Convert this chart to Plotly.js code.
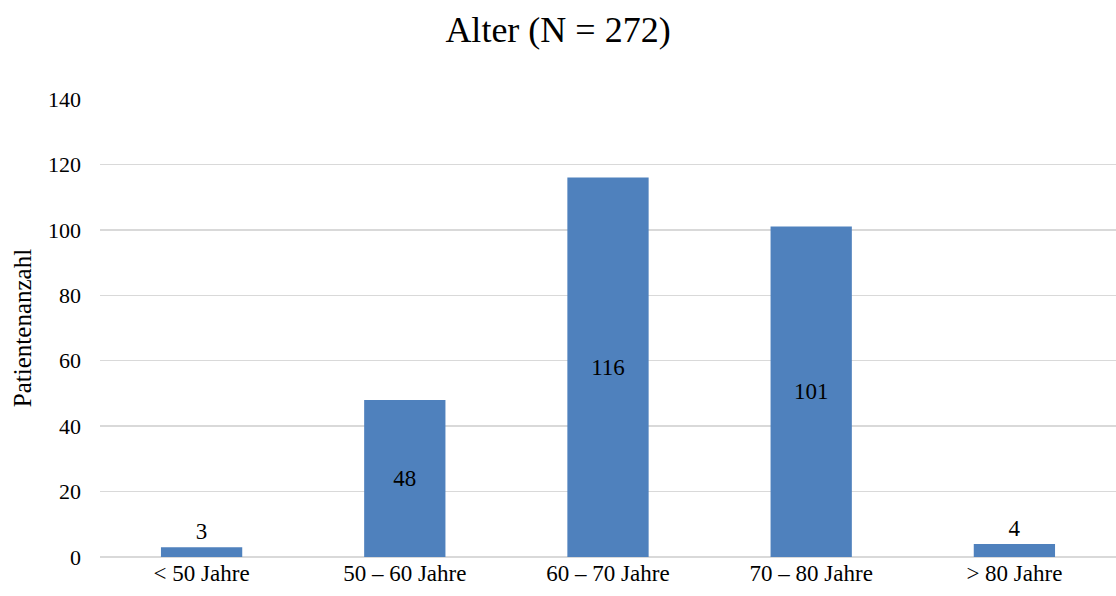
<!DOCTYPE html>
<html>
<head>
<meta charset="utf-8">
<script src="https://cdn.plot.ly/plotly-3.0.1.min.js"></script>
<style>html,body{margin:0;padding:0;background:#fff;}#chart{width:1116px;height:596px;}</style>
</head>
<body>
<div id="chart"></div>
<script>
// Age groups of the patient cohort
const categories = ['< 50 Jahre', '50 – 60 Jahre', '60 – 70 Jahre', '70 – 80 Jahre', '> 80 Jahre'];
const patients = [3, 48, 116, 101, 4];
const labelPositions = ['outside', 'inside', 'inside', 'inside', 'outside'];

const serif = 'Liberation Serif, Times New Roman, serif';

const trace = {
  type: 'bar',
  x: categories,
  y: patients,
  text: patients.map(String),
  textposition: labelPositions,
  insidetextanchor: 'middle',
  textfont: {family: serif, size: 23, color: '#000'},
  cliponaxis: false,
  marker: {color: '#4f81bd'},
  hoverinfo: 'x+y'
};

const layout = {
  width: 1116,
  height: 596,
  margin: {l: 100, r: 0, t: 99, b: 39},
  paper_bgcolor: '#fff',
  plot_bgcolor: '#fff',
  bargap: 0.6,
  showlegend: false,
  font: {family: serif, color: '#000'},
  title: {text: 'Alter (N = 272)', x: 0.5, xanchor: 'center', y: 0.95, yanchor: 'middle',
          font: {family: serif, size: 36, color: '#000'}},
  xaxis: {
    type: 'category',
    showgrid: false,
    showline: false,
    ticks: '',
    tickfont: {family: serif, size: 23, color: '#000'}
  },
  yaxis: {
    range: [0, 140],
    dtick: 20,
    showgrid: true,
    gridcolor: '#d9d9d9',
    gridwidth: 1.5,
    zeroline: true,
    zerolinecolor: '#d9d9d9',
    zerolinewidth: 1.5,
    showline: false,
    ticks: '',
    ticklabelstandoff: 18,
    tickfont: {family: serif, size: 22, color: '#000'},
    title: {text: 'Patientenanzahl', standoff: 9, font: {family: serif, size: 25, color: '#000'}}
  }
};

Plotly.newPlot('chart', [trace], layout, {displayModeBar: false, staticPlot: true});
</script>
</body>
</html>
